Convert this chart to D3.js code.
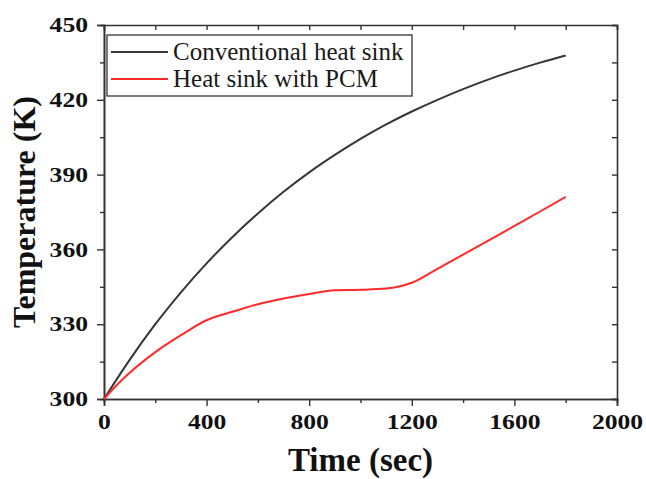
<!DOCTYPE html>
<html>
<head>
<meta charset="utf-8">
<script src="https://cdn.jsdelivr.net/npm/d3@7"></script>
<style>
  body { margin: 0; background: #fff; }
  svg { display: block; }
</style>
</head>
<body>
<div id="chart"></div>
<script>
// data
var timeConv = [0, 100, 200, 300, 400, 500, 600, 700, 800, 900, 1000, 1100, 1200, 1300, 1400, 1500, 1600, 1700, 1800];
var tempConv = [300, 315.7, 330, 342.8, 354.4, 364.9, 374.4, 383.1, 390.9, 397.9, 404.3, 410.1, 415.3, 420, 424.3, 428.2, 431.7, 434.9, 437.8];

var timePCM = [0, 50, 100, 200, 300, 400, 450, 500, 600, 700, 800, 900, 1000, 1100, 1150, 1200, 1300, 1400, 1500, 1600, 1700, 1800];
var tempPCM = [300, 305.6, 310.5, 318.8, 325.6, 331.6, 333.5, 335, 338, 340.3, 342.1, 343.6, 343.8, 344.3, 345.1, 346.6, 352.2, 357.9, 363.6, 369.4, 375.2, 381.1];

var seriesNames = ["Conventional heat sink", "Heat sink with PCM"];
var seriesColors = ["#363636", "#ff2b2b"];

var xTicks = [0, 400, 800, 1200, 1600, 2000];
var xMinor = [200, 600, 1000, 1400, 1800];
var yTicks = [300, 330, 360, 390, 420, 450];
var yMinor = [315, 345, 375, 405, 435];

var width = 646, height = 479;
var margin = {top: 25, right: 29, bottom: 80, left: 104};
var w = width - margin.left - margin.right;
var h = height - margin.top - margin.bottom;

var svg = d3.select("#chart").append("svg")
  .attr("width", width)
  .attr("height", height);

var g = svg.append("g")
  .attr("transform", "translate(" + margin.left + "," + margin.top + ")");

var x = d3.scaleLinear().domain([0, 2000]).range([0, w]);
var y = d3.scaleLinear().domain([300, 450]).range([h, 0]);

var axisColor = "#333";

function styleAxis(sel) {
  sel.select(".domain").attr("stroke", axisColor).attr("stroke-width", 1.6);
  sel.selectAll(".tick line").attr("stroke", axisColor).attr("stroke-width", 1.4);
}

// minor ticks first
g.append("g").attr("transform", "translate(0," + h + ")")
  .call(d3.axisBottom(x).tickValues(xMinor).tickSize(4).tickFormat(""))
  .call(styleAxis);
g.append("g")
  .call(d3.axisLeft(y).tickValues(yMinor).tickSize(4).tickFormat(""))
  .call(styleAxis);
g.append("g")
  .call(d3.axisTop(x).tickValues(xTicks.concat(xMinor)).tickSize(-5).tickFormat(""))
  .call(styleAxis);
g.append("g").attr("transform", "translate(" + w + ",0)")
  .call(d3.axisRight(y).tickValues(yTicks.concat(yMinor)).tickSize(-5).tickFormat(""))
  .call(styleAxis);

// major ticks with labels
var xAxis = g.append("g").attr("transform", "translate(0," + h + ")")
  .call(d3.axisBottom(x).tickValues(xTicks).tickSize(7).tickPadding(8).tickFormat(d3.format("d")))
  .call(styleAxis);
var yAxis = g.append("g")
  .call(d3.axisLeft(y).tickValues(yTicks).tickSize(7).tickPadding(9).tickFormat(d3.format("d")))
  .call(styleAxis);

[xAxis, yAxis].forEach(function(a) {
  a.selectAll(".tick text")
    .attr("fill", "#111")
    .style("font-family", "'Liberation Serif', 'Times New Roman', serif")
    .style("font-weight", "bold")
    .style("font-size", "21px")
    .each(function() {
      // the labels in the picture are a bit wider than the font
      var len = this.getComputedTextLength();
      d3.select(this).attr("textLength", len * 1.22).attr("lengthAdjust", "spacingAndGlyphs");
    });
});

// lines
var line = d3.line()
  .x(function(d) { return x(d[0]); })
  .y(function(d) { return y(d[1]); })
  .curve(d3.curveMonotoneX);

var series = [
  timeConv.map(function(t, i) { return [t, tempConv[i]]; }),
  timePCM.map(function(t, i) { return [t, tempPCM[i]]; })
];

g.selectAll("path.series")
  .data(series)
  .enter().append("path")
  .attr("class", "series")
  .attr("d", line)
  .attr("fill", "none")
  .attr("stroke", function(d, i) { return seriesColors[i]; })
  .attr("stroke-width", 2);

// legend
var legend = svg.append("g").attr("transform", "translate(107,35)");
legend.append("rect")
  .attr("width", 305)
  .attr("height", 61)
  .attr("fill", "#fff")
  .attr("stroke", axisColor)
  .attr("stroke-width", 1.3);

var items = legend.selectAll("g.item")
  .data(seriesNames)
  .enter().append("g")
  .attr("class", "item")
  .attr("transform", function(d, i) { return "translate(0," + (17 + i * 27) + ")"; });

items.append("line")
  .attr("x1", 4).attr("x2", 61)
  .attr("stroke", function(d, i) { return seriesColors[i]; })
  .attr("stroke-width", 2);

items.append("text")
  .attr("x", 66)
  .attr("y", 8)
  .attr("fill", "#1a1a1a")
  .style("font-family", "'Liberation Serif', 'Times New Roman', serif")
  .style("font-size", "25px")
  .text(function(d) { return d; });

// axis titles
svg.append("text")
  .attr("x", margin.left + w / 2)
  .attr("y", 471)
  .attr("text-anchor", "middle")
  .attr("fill", "#111")
  .style("font-family", "'Liberation Serif', 'Times New Roman', serif")
  .style("font-weight", "bold")
  .style("font-size", "33px")
  .text("Time (sec)");

svg.append("text")
  .attr("transform", "translate(35," + (margin.top + h / 2) + ") rotate(-90)")
  .attr("text-anchor", "middle")
  .attr("fill", "#111")
  .style("font-family", "'Liberation Serif', 'Times New Roman', serif")
  .style("font-weight", "bold")
  .style("font-size", "32px")
  .text("Temperature (K)");
</script>
</body>
</html>
